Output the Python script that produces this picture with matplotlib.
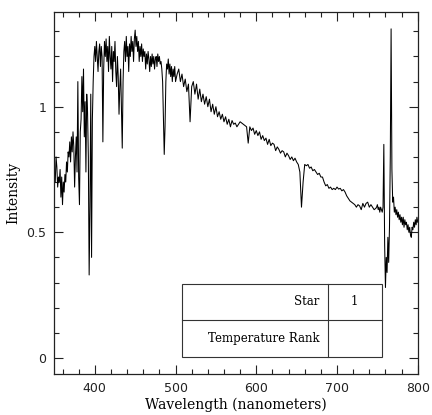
import numpy as np
import matplotlib.pyplot as plt
from matplotlib.ticker import MultipleLocator
from matplotlib.patches import Rectangle

# Длины волн (нм): шаг 1 нм в синей части и у теллурических полос, 2 нм в середине
wl_blue = np.arange(350, 501, 1)
wl_mid = np.arange(502, 749, 2)
wl_red = np.arange(749, 801, 1)

flux_blue = [
    0.74, 0.70, 0.80, 0.76, 0.68, 0.72, 0.70, 0.75, 0.64, 0.72,
    0.61, 0.70, 0.66, 0.73, 0.70, 0.78, 0.74, 0.82, 0.80, 0.86,
    0.78, 0.88, 0.82, 0.90, 0.84, 0.68, 0.80, 0.88, 0.74, 1.10,
    0.72, 0.61, 0.90, 0.95, 1.12, 0.98, 1.15, 0.88, 1.02, 0.74,
    1.05, 0.98, 0.80, 0.33, 0.60, 1.05, 0.40, 0.95, 1.10, 1.20,
    1.24, 1.18, 1.26, 1.20, 1.14, 1.22, 1.25, 1.16, 1.24, 1.20,
    0.86, 1.15, 1.26, 1.20, 1.27, 1.18, 1.24, 1.14, 1.28, 1.20,
    1.15, 1.24, 1.10, 1.22, 1.18, 1.26, 1.14, 1.08, 1.20, 1.12,
    0.97, 1.08, 1.15, 1.00, 0.835, 1.10, 1.22, 1.26, 1.18, 1.28,
    1.20, 1.24, 1.14, 1.25, 1.20, 1.28, 1.22, 1.26, 1.18, 1.27,
    1.305, 1.24, 1.28, 1.22, 1.26, 1.18, 1.24, 1.20, 1.25, 1.18,
    1.23, 1.20, 1.22, 1.15, 1.21, 1.17, 1.22, 1.19, 1.14, 1.20,
    1.16, 1.21, 1.17, 1.20, 1.15, 1.19, 1.20, 1.16, 1.21, 1.18,
    1.20, 1.17, 1.18, 1.15, 1.10, 0.95, 0.81, 0.92, 1.10, 1.17,
    1.15, 1.19, 1.13, 1.17, 1.12, 1.16, 1.10, 1.15, 1.12, 1.16,
    1.10,
]

flux_mid = [
    1.13, 1.15, 1.10, 1.13, 1.08, 1.11, 1.06, 1.09, 0.94, 1.08,
    1.10, 1.05, 1.09, 1.03, 1.07, 1.02, 1.05, 1.01, 1.04, 1.00,
    1.03, 0.98, 1.01, 0.97, 1.00, 0.96, 0.98, 0.95, 0.97, 0.94,
    0.96, 0.93, 0.95, 0.92, 0.945, 0.93, 0.935, 0.92, 0.93, 0.94,
    0.935, 0.93, 0.925, 0.92, 0.855, 0.92, 0.905, 0.915, 0.89, 0.905,
    0.885, 0.90, 0.87, 0.885, 0.865, 0.875, 0.85, 0.87, 0.845, 0.855,
    0.85, 0.825, 0.84, 0.83, 0.815, 0.825, 0.82, 0.80, 0.815, 0.805,
    0.79, 0.80, 0.785, 0.795, 0.78, 0.77, 0.74, 0.60, 0.70, 0.77,
    0.765, 0.77, 0.755, 0.76, 0.745, 0.75, 0.74, 0.73, 0.735, 0.72,
    0.72, 0.70, 0.685, 0.69, 0.675, 0.68, 0.67, 0.675, 0.67, 0.68,
    0.672, 0.675, 0.665, 0.67, 0.66, 0.645, 0.635, 0.625, 0.62, 0.615,
    0.61, 0.60, 0.61, 0.605, 0.59, 0.615, 0.60, 0.615, 0.62, 0.60,
    0.61, 0.60, 0.59, 0.595,
]

flux_red = [
    0.60, 0.61, 0.59, 0.60, 0.58, 0.60, 0.59, 0.58, 0.60, 0.85,
    0.45, 0.28, 0.40, 0.34, 0.48, 0.38, 0.52, 0.80, 1.31, 0.75,
    0.62, 0.64, 0.58, 0.60, 0.57, 0.59, 0.56, 0.58, 0.55, 0.57,
    0.54, 0.56, 0.53, 0.56, 0.52, 0.55, 0.53, 0.54, 0.51, 0.53,
    0.50, 0.52, 0.49, 0.48, 0.52, 0.51, 0.54, 0.52, 0.55, 0.53,
    0.56, 0.54,
]

wavelength = np.concatenate([wl_blue, wl_mid, wl_red])
intensity = np.array(flux_blue + flux_mid + flux_red)

table_rows = ['Star', 'Temperature Rank']
table_vals = ['1', '']

fig = plt.figure(figsize=(4.32, 4.15), dpi=100)
ax = fig.add_axes([0.126, 0.099, 0.841, 0.872])

ax.plot(wavelength, intensity, color='black', lw=0.75)

ax.set_xlim(350, 800)
ax.set_ylim(-0.064, 1.377)
ax.xaxis.set_major_locator(MultipleLocator(100))
ax.xaxis.set_minor_locator(MultipleLocator(20))
ax.yaxis.set_minor_locator(MultipleLocator(0.1))
ax.set_yticks([0, 0.5, 1])
ax.set_yticklabels(['0', '0.5', '1'])
ax.tick_params(which='both', direction='in', top=True, right=True,
               labelsize=9, colors='#222222')
ax.tick_params(which='major', length=6.5, width=0.8, pad=6)
ax.tick_params(which='minor', length=3.5, width=0.8)
for s in ax.spines.values():
    s.set_linewidth(0.9)
    s.set_color('#222222')

ax.set_xlabel('Wavelength (nanometers)', family='DejaVu Serif', fontsize=10, labelpad=2)
ax.set_ylabel('Intensity', family='DejaVu Serif', fontsize=10, labelpad=4)

# Табличка в правом нижнем углу
x0, x1, xd = 0.351, 0.901, 0.752
y0, ym, y1 = 0.047, 0.149, 0.249
ax.add_patch(Rectangle((x0, y0), x1 - x0, y1 - y0, transform=ax.transAxes,
                       facecolor='white', edgecolor='#333333', lw=0.8, zorder=3))
ax.plot([x0, x1], [ym, ym], transform=ax.transAxes, color='#333333', lw=0.8, zorder=4)
ax.plot([xd, xd], [y0, y1], transform=ax.transAxes, color='#333333', lw=0.8, zorder=4)
row_y = [(ym + y1) / 2, (y0 + ym) / 2]
for name, val, yy in zip(table_rows, table_vals, row_y):
    ax.text(xd - 0.022, yy, name, transform=ax.transAxes, ha='right', va='center',
            family='DejaVu Serif', fontsize=8.5, zorder=5)
    ax.text((xd + x1) / 2, yy, val, transform=ax.transAxes, ha='center', va='center',
            family='DejaVu Serif', fontsize=8.5, zorder=5)

fig.savefig('out.png', dpi=100)
